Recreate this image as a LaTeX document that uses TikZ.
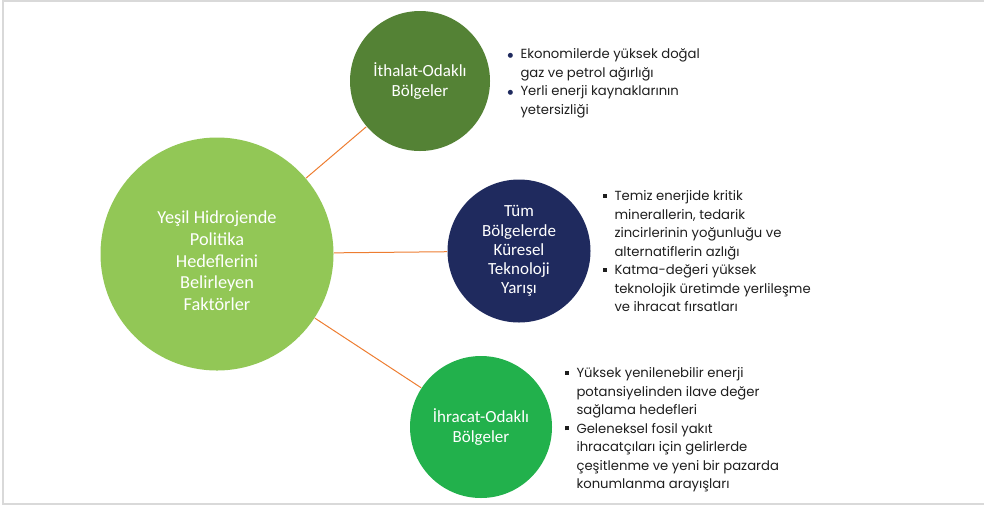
\documentclass[tikz,border=0pt]{standalone}
\usepackage{fontspec}
\setmainfont{Poppins}
\newfontfamily\circfont{Carlito}
\newfontfamily\symfont{DejaVu Sans}
\usetikzlibrary{positioning}
\definecolor{clime}{HTML}{92C756}
\definecolor{cdark}{HTML}{548235}
\definecolor{cnavy}{HTML}{1F2A5E}
\definecolor{cgreen}{HTML}{22B14C}
\definecolor{corange}{HTML}{ED7D31}
\definecolor{ctext}{HTML}{1E1E1E}
\definecolor{cframe}{HTML}{D9D9D9}
\tikzset{
  every picture/.style={line width=1pt},
  hub/.style={circle, fill=#1, text=white, align=center, inner sep=0pt, font=\circfont\fontsize{17}{19.2}\selectfont},
  link/.style={draw=corange, line width=1pt},
  notes/.style={anchor=north west, align=left, inner sep=0pt, text=ctext, font=\fontsize{13.2}{18.5}\selectfont},
  frame/.style={draw=cframe, line width=1.5pt},
}
\newcommand{\dotb}{\makebox[13pt][l]{\raisebox{1pt}{\textcolor{cnavy}{\symfont\fontsize{6.5}{6.5}\selectfont ●}}}}
\newcommand{\sqb}{\makebox[12pt][l]{\raisebox{2.8pt}{\rule{4pt}{4pt}}}}
\newcommand{\ind}[1]{\hspace*{#1}}

\begin{document}
\begin{tikzpicture}[x=1pt, y=-1pt]
  \useasboundingbox (0,0) rectangle (984,507);
  \draw[frame] (984,1) -- (3,1) -- (3,504) -- (984,504);

  % circles
  \node[hub=clime, minimum size=233pt] (goal) at (217,254) {};
  \node[text=white, align=center, font=\circfont\fontsize{18.3}{21.7}\selectfont] (goaltext) at ([yshift=-7pt]goal.center)
    {Yeşil Hidrojende\\Politika\\Hedeflerini\\Belirleyen\\Faktörler};
  \node[hub=cdark, minimum size=140pt] (imp) at (420,81) {İthalat-Odaklı\\Bölgeler};
  \node[hub=cnavy, minimum size=143pt] (race) at (519,251) {Tüm\\Bölgelerde\\Küresel\\Teknoloji\\Yarışı};
  \node[hub=cgreen, minimum size=142pt] (exp) at (481,427) {İhracat-Odaklı\\Bölgeler};

  \foreach \c in {imp, race, exp} \draw[link] (goal) -- (\c);

  % bullet lists
  \node[notes] (impnotes) at (507,48)
    {\dotb Ekonomilerde yüksek doğal\\ \ind{13pt}gaz ve petrol ağırlığı\\
     \dotb Yerli enerji kaynaklarının\\ \ind{13pt}yetersizliği};
  \node[notes] (racenotes) at (602,190)
    {\sqb Temiz enerjide kritik\\ \ind{12pt}minerallerin, tedarik\\ \ind{12pt}zincirlerinin yoğunluğu ve\\ \ind{12pt}alternatiflerin azlığı\\
     \sqb Katma-değeri yüksek\\ \ind{12pt}teknolojik üretimde yerlileşme\\ \ind{12pt}ve ihracat fırsatları};
  \node[notes] (expnotes) at (564,367)
    {\sqb Yüksek yenilenebilir enerji\\ \ind{12pt}potansiyelinden ilave değer\\ \ind{12pt}sağlama hedefleri\\
     \sqb Geleneksel fosil yakıt\\ \ind{12pt}ihracatçıları için gelirlerde\\ \ind{12pt}çeşitlenme ve yeni bir pazarda\\ \ind{12pt}konumlanma arayışları};
\end{tikzpicture}
\end{document}
